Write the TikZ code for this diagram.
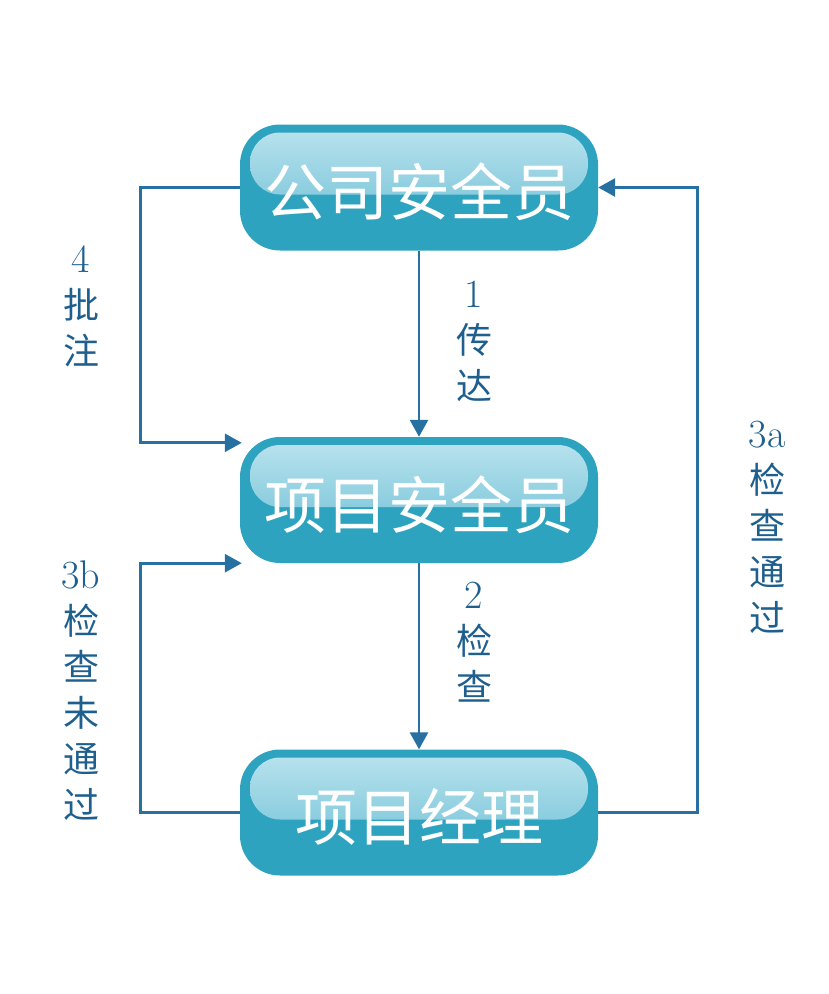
\documentclass[tikz,border=0pt]{standalone}
\usepackage{fontspec}
\newfontfamily\cjk{Noto Sans CJK SC}
\usetikzlibrary{arrows.meta,calc}

\definecolor{boxblue}{HTML}{2DA3C0}
\definecolor{glosstop}{HTML}{BCE4EF}
\definecolor{glossbot}{HTML}{62BAD1}
\definecolor{linkblue}{HTML}{2770A2}
\definecolor{textblue}{HTML}{1F5F8E}

\newcommand\lblnum[1]{{\rmfamily\fontsize{40}{46}\selectfont #1}}

\tikzset{
  stepbox/.style={rounded corners=40pt, fill=boxblue, minimum width=358pt, minimum height=126pt,
    inner sep=0pt, text=white, font=\cjk\fontsize{62}{65}\selectfont,
    text height=60pt, text depth=4pt,
    path picture={
      \shade[top color=glosstop, bottom color=glossbot, rounded corners=30pt]
        ($(path picture bounding box.north west)+(10,8)$) rectangle
        ($(path picture bounding box.north east)+(-10,70)$);
    }},
  link/.style={draw=linkblue, line width=2.8pt, -{Triangle[length=17pt,width=18pt]}},
  linklabel/.style={text=textblue, align=center, inner sep=0pt,
    font=\cjk\fontsize{36}{46}\selectfont},
}

\begin{document}
\begin{tikzpicture}[x=1pt,y=-1pt]
    \useasboundingbox (0,0) rectangle (828,994);

    % boxes
    \node[stepbox] (gongsi) at (419,187.5) {公司安全员};
    \node[stepbox] (xiangmu) at (419,500) {项目安全员};
    \node[stepbox] (jingli) at (419,812.5) {项目经理};

    % free ends on the left
    \coordinate (pizhu) at ($(xiangmu.north west)+(2,6)$);
    \coordinate (weitongguo) at ($(xiangmu.south west)+(2,0)$);

    % connectors
    \draw[link] (gongsi.south) -- (xiangmu.north);
    \draw[link] (xiangmu.south) -- (jingli.north);
    \draw[link] (gongsi.west) -- ++(-99,0) |- (pizhu);
    \draw[link] (jingli.west) -- ++(-99,0) |- (weitongguo);
    \draw[link] (jingli.east) -- ++(99,0) |- (gongsi.east);

    % labels
    \node[linklabel, anchor=north] (lbl4) at (81,246) {\lblnum{4}\\批\\注};
    \node[linklabel, anchor=north] (lbl1) at (474,281) {\lblnum{1}\\传\\达};
    \node[linklabel, anchor=north] (lbl2) at (474,582) {\lblnum{2}\\检\\查};
    \node[linklabel, anchor=north] (lbl3a) at (767,421) {\lblnum{3a}\\检\\查\\通\\过};
    \node[linklabel, anchor=north] (lbl3b) at (81,561) {\lblnum{3b}\\检\\查\\未\\通\\过};
\end{tikzpicture}
\end{document}
